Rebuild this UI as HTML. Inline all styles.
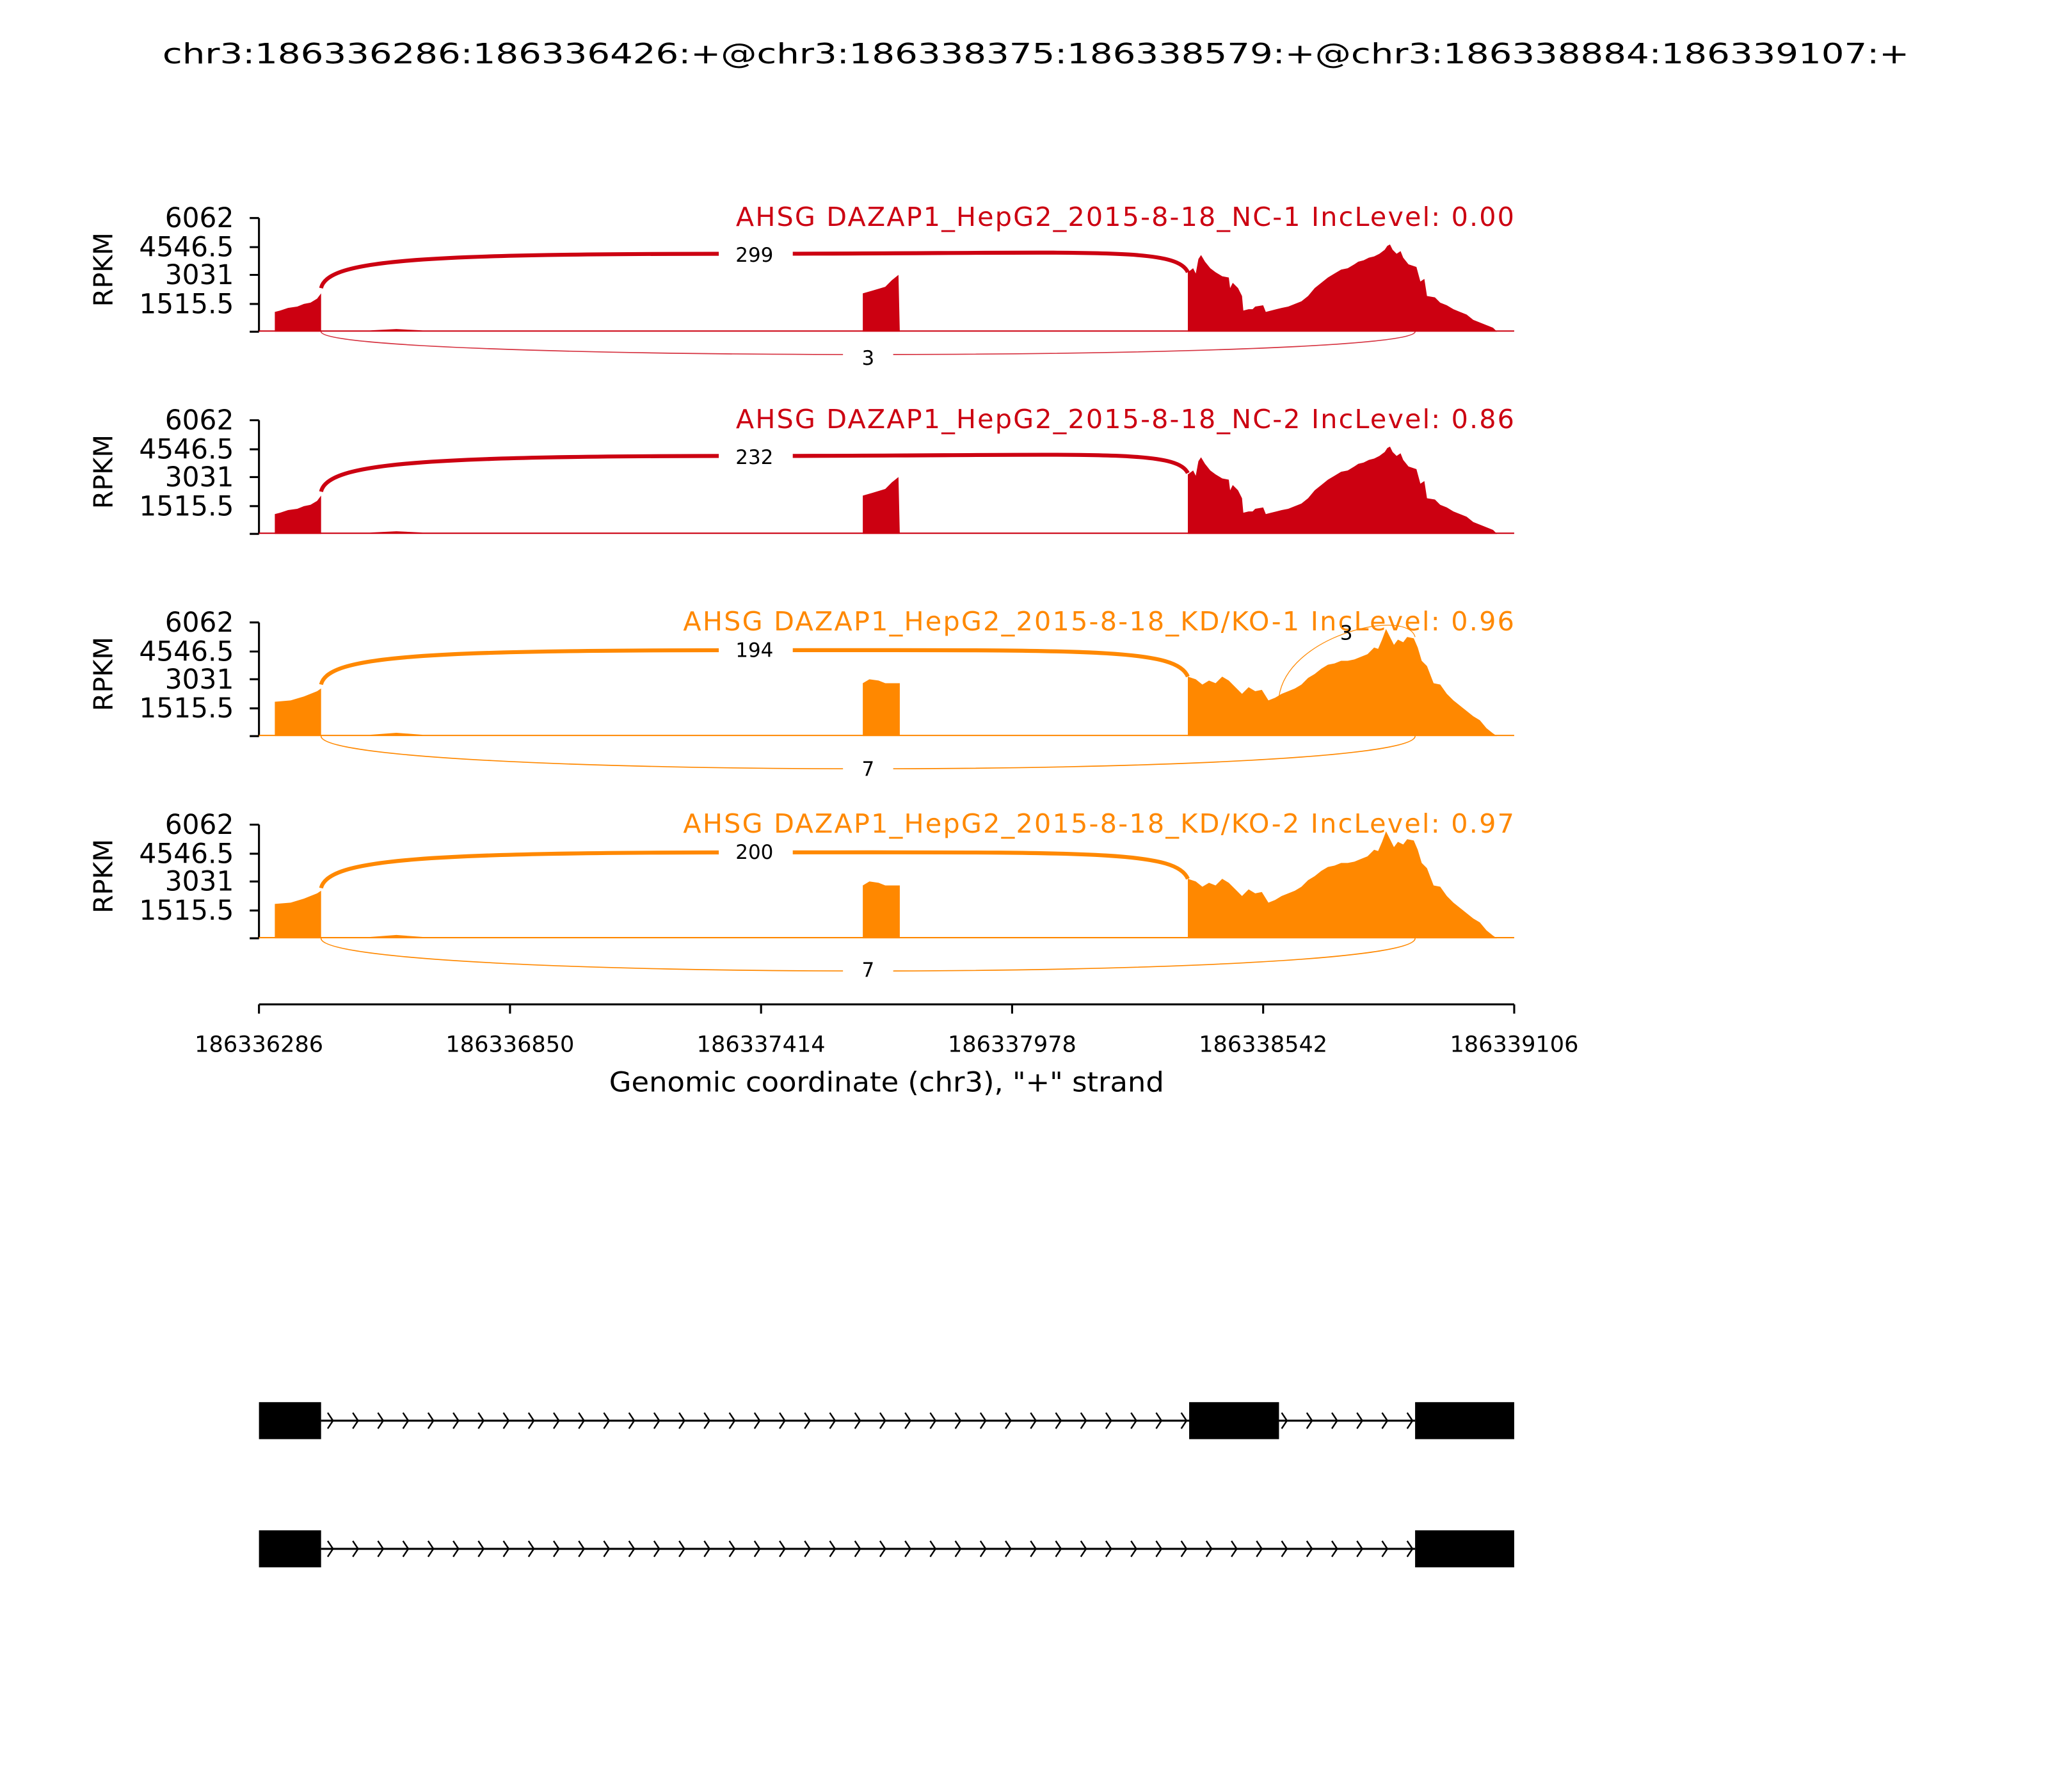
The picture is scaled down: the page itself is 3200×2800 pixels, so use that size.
<!DOCTYPE html>
<html><head><meta charset="utf-8"><style>html,body{margin:0;padding:0;background:#fff}svg{display:block}</style></head>
<body>
<svg id="s" width="3200" height="2800" viewBox="0 0 1550 1356" preserveAspectRatio="none" xmlns="http://www.w3.org/2000/svg" font-family="DejaVu Sans, Liberation Sans, sans-serif">
<rect width="1550" height="1356" fill="#fff"/>
<text x="784" y="48" font-size="21" text-anchor="middle" textLength="1322" lengthAdjust="spacingAndGlyphs">chr3:186336286:186336426:+@chr3:186338375:186338579:+@chr3:186338884:186339107:+</text>

<defs>
<g id="redcov">
<polygon points="208,251 208,236 212,235 218,233 225,232 230,230 235,229 240,226 243,222 243,251"/>
<polygon points="653,251 653,222 660,220 670,217 675,212 680,208 681,251"/>
<polygon points="899,251 899,206 903,203 905,207 907,196 909,193 912,198 916,203 920,206 925,209 930,210 931,218 933,214 937,218 940,224 941,235 945,234 948,234 950,232 956,231 958,236 962,235 966,234 970,233 975,232 980,230 985,228 990,224 995,218 1000,214 1005,210 1010,207 1015,204 1020,203 1025,200 1028,198 1032,197 1036,195 1040,194 1044,192 1048,189 1050,186 1052,185 1054,189 1057,192 1060,190 1062,195 1066,200 1072,202 1075,213 1078,211 1080,224 1086,225 1090,229 1095,231 1100,234 1105,236 1110,238 1115,242 1120,244 1125,246 1130,248 1133,251"/>
<polygon points="196,251 196,250 280,250 300,249 320,250 1146,250 1146,251"/>
</g>
<g id="orcov">
<polygon points="208,557 208,531 220,530 230,527 240,523 243,521 243,557"/>
<polygon points="653,557 653,517 658,514 665,515 670,517 681,517 681,557"/>
<polygon points="899,557 899,512 905,514 910,518 915,515 920,517 925,512 930,515 935,520 940,525 945,520 950,523 955,522 960,530 965,528 970,525 975,523 980,521 985,518 990,513 995,510 1000,506 1005,503 1010,502 1015,500 1020,500 1025,499 1030,497 1035,495 1040,490 1043,491 1046,484 1049,476 1052,482 1055,488 1058,484 1062,486 1065,482 1070,483 1073,490 1076,500 1080,504 1085,517 1090,518 1095,525 1100,530 1105,534 1110,538 1115,542 1120,545 1125,551 1130,555 1133,557"/>
<polygon points="196,557 196,556 280,556 300,554.5 320,556 1146,556 1146,557"/>
</g>
</defs>

<g stroke="#000" stroke-width="1.5" fill="none">
<path d="M196,165V251M189,165H196M189,187H196M189,208H196M189,230H196M189,251H196"/>
<path d="M196,318V404M189,318H196M189,340H196M189,361H196M189,383H196M189,404H196"/>
<path d="M196,471V557M189,471H196M189,493H196M189,514H196M189,536H196M189,557H196"/>
<path d="M196,624V710M189,624H196M189,646H196M189,667H196M189,689H196M189,710H196"/>
</g>
<g font-size="20.5" text-anchor="end">
<text x="177" y="172">6062</text><text x="177" y="194">4546.5</text><text x="177" y="215">3031</text><text x="177" y="237">1515.5</text>
<text x="177" y="325">6062</text><text x="177" y="347">4546.5</text><text x="177" y="368">3031</text><text x="177" y="390">1515.5</text>
<text x="177" y="478">6062</text><text x="177" y="500">4546.5</text><text x="177" y="521">3031</text><text x="177" y="543">1515.5</text>
<text x="177" y="631">6062</text><text x="177" y="653">4546.5</text><text x="177" y="674">3031</text><text x="177" y="696">1515.5</text>
</g>
<g font-size="20" text-anchor="middle">
<text transform="translate(85,204) rotate(-90)">RPKM</text>
<text transform="translate(85,357) rotate(-90)">RPKM</text>
<text transform="translate(85,510) rotate(-90)">RPKM</text>
<text transform="translate(85,663) rotate(-90)">RPKM</text>
</g>

<g fill="#CC0011"><use href="#redcov"/></g>
<g fill="#CC0011" transform="translate(0,153)"><use href="#redcov"/></g>
<g fill="#FF8800"><use href="#orcov"/></g>
<g fill="#FF8800" transform="translate(0,153)"><use href="#orcov"/></g>

<g font-size="20" text-anchor="end" lengthAdjust="spacingAndGlyphs">
<text x="1146" y="171" fill="#CC0011" textLength="589">AHSG DAZAP1_HepG2_2015-8-18_NC-1 IncLevel: 0.00</text>
<text x="1146" y="324" fill="#CC0011" textLength="589">AHSG DAZAP1_HepG2_2015-8-18_NC-2 IncLevel: 0.86</text>
<text x="1146" y="477" fill="#FF8800" textLength="629">AHSG DAZAP1_HepG2_2015-8-18_KD/KO-1 IncLevel: 0.96</text>
<text x="1146" y="630" fill="#FF8800" textLength="629">AHSG DAZAP1_HepG2_2015-8-18_KD/KO-2 IncLevel: 0.97</text>
</g>

<g fill="none">
<path d="M243,218 C248,196 320,192 571,192 S890,186 899,206" stroke="#CC0011" stroke-width="3"/>
<path d="M243,251 C243,274 1071,274 1071,251" stroke="#CC0011" stroke-width="0.8" opacity="0.8"/>
<path d="M243,372 C248,350 320,345 571,345 S890,339 899,358" stroke="#CC0011" stroke-width="3"/>
<path d="M243,518 C248,496 320,492 571,492 S890,490 899,512" stroke="#FF8800" stroke-width="3"/>
<path d="M243,557 C243,590 1071,590 1071,557" stroke="#FF8800" stroke-width="0.8"/>
<path d="M968,527 C975,480 1065,460 1071,482" stroke="#FF8800" stroke-width="0.6"/>
<path d="M243,672 C248,650 320,645 571,645 S890,643 899,665" stroke="#FF8800" stroke-width="3"/>
<path d="M243,710 C243,743 1071,743 1071,710" stroke="#FF8800" stroke-width="0.8"/>
</g>
<g fill="#fff">
<rect x="544" y="183" width="56" height="19"/><rect x="638" y="261" width="38" height="19"/>
<rect x="544" y="336" width="56" height="19"/>
<rect x="544" y="483" width="56" height="19"/><rect x="638" y="572" width="38" height="19"/>
<rect x="544" y="636" width="56" height="19"/><rect x="638" y="724" width="38" height="19"/>
</g>
<g font-size="15" text-anchor="middle">
<text x="571" y="198">299</text><text x="657" y="276">3</text>
<text x="571" y="351">232</text>
<text x="571" y="497">194</text><text x="657" y="587">7</text><text x="1019" y="484">3</text>
<text x="571" y="650">200</text><text x="657" y="739">7</text>
</g>

<g stroke="#000" stroke-width="1.5">
<path d="M196,760H1146M196,760V767M386,760V767M576,760V767M766,760V767M956,760V767M1146,760V767" fill="none"/>
</g>
<g font-size="17" text-anchor="middle">
<text x="196" y="796">186336286</text><text x="386" y="796">186336850</text><text x="576" y="796">186337414</text>
<text x="766" y="796">186337978</text><text x="956" y="796">186338542</text><text x="1146" y="796">186339106</text>
</g>
<text x="671" y="826" font-size="20.5" text-anchor="middle" textLength="420" lengthAdjust="spacingAndGlyphs">Genomic coordinate (chr3), "+" strand</text>

<g>
<path d="M243,1075H1071M243,1172H1071" stroke="#000" stroke-width="1.5"/>
<rect x="196" y="1061" width="47" height="28"/><rect x="900" y="1061" width="68" height="28"/><rect x="1071" y="1061" width="75" height="28"/>
<rect x="196" y="1158" width="47" height="28"/><rect x="1071" y="1158" width="75" height="28"/>
</g>
<g id="chev" stroke="#000" stroke-width="1.2" fill="none"></g>
</svg>
<script>
var g=document.getElementById('chev'),d='';
for(var x=248;x<=1068;x+=19){
 if(!(x>895&&x<970)) d+='M'+x+',1069L'+(x+4)+',1075L'+x+',1081';
 d+='M'+x+',1166L'+(x+4)+',1172L'+x+',1178';
}
var p=document.createElementNS('http://www.w3.org/2000/svg','path');p.setAttribute('d',d);g.appendChild(p);
</script>
</body></html>
